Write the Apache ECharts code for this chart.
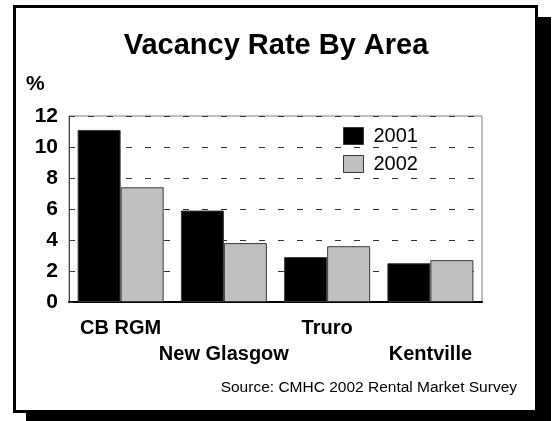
<!DOCTYPE html>
<html>
<head>
<meta charset="utf-8">
<script src="https://cdn.jsdelivr.net/npm/echarts@6/dist/echarts.min.js"></script>
<style>
  html, body { margin: 0; padding: 0; background: #fff; }
  #frame {
    position: absolute; left: 13px; top: 5px; width: 519px; height: 402px;
    border: 3px solid #000; background: #fff; box-shadow: 13px 12px 0 #000;
  }
  #chart { position: absolute; left: 0; top: 0; width: 556px; height: 421px; }
</style>
</head>
<body>
<div id="frame"></div>
<div id="chart"></div>
<script>
const areas = ['CB RGM', 'New Glasgow', 'Truro', 'Kentville'];
const rate2001 = [11.1, 5.9, 2.9, 2.5];
const rate2002 = [7.4, 3.8, 3.6, 2.7];
const years = ['2001', '2002'];
const yMin = 0;
const yMax = 12;
const yStep = 2;

const font = "'Liberation Sans', Arial, sans-serif";

function barSeries(name, values, color) {
  return {
    name,
    type: 'bar',
    data: values,
    barWidth: 43,
    barGap: 0,
    itemStyle: { color, borderColor: '#3a3a3a', borderWidth: 1 },
  };
}

const config = {
  animation: false,
  textStyle: { fontFamily: font },
  title: [
    {
      text: 'Vacancy Rate By Area',
      left: 276, top: 31, textAlign: 'center', padding: 0,
      textStyle: { fontFamily: font, fontSize: 29, fontWeight: 'bold', color: '#000' },
    },
    {
      text: '%',
      left: 26, top: 74, padding: 0,
      textStyle: { fontFamily: font, fontSize: 21, fontWeight: 'bold', color: '#000' },
    },
    {
      text: 'Source: CMHC 2002 Rental Market Survey',
      right: 39, top: 380, padding: 0,
      textStyle: { fontFamily: font, fontSize: 15.5, fontWeight: 'normal', color: '#000' },
    },
  ],
  legend: {
    data: years,
    orient: 'vertical',
    left: 343, top: 126, padding: 0,
    itemWidth: 20, itemHeight: 17, itemGap: 8,
    icon: 'rect',
    itemStyle: { borderColor: '#3a3a3a', borderWidth: 1 },
    textStyle: { fontFamily: font, fontSize: 20, lineHeight: 20, color: '#000', padding: [0, 0, 0, 5] },
  },
  grid: {
    left: 69, top: 116, width: 413, height: 186,
    show: true, borderColor: '#808080', borderWidth: 1,
  },
  xAxis: {
    type: 'category',
    data: areas,
    axisLine: { lineStyle: { color: '#000', width: 2 } },
    axisTick: { show: false },
    axisLabel: {
      interval: 0, margin: 13,
      fontFamily: font, fontSize: 20, fontWeight: 'bold', color: '#000', lineHeight: 26,
      formatter: (v, i) => (i % 2 ? '\n' + v : v),
    },
  },
  yAxis: {
    type: 'value',
    min: yMin, max: yMax, interval: yStep,
    axisLine: { show: true, lineStyle: { color: '#444', width: 1 } },
    axisTick: { show: true, inside: true, length: 4, lineStyle: { color: '#444' } },
    axisLabel: { margin: 11, fontFamily: font, fontSize: 21, fontWeight: 'bold', color: '#000' },
    splitLine: { show: true, lineStyle: { color: '#333', width: 1, type: [6, 13] } },
  },
  series: [
    barSeries(years[0], rate2001, '#000000'),
    barSeries(years[1], rate2002, '#c0c0c0'),
  ],
};

const chart = echarts.init(document.getElementById('chart'), null, { renderer: 'canvas' });
chart.setOption(config);
</script>
</body>
</html>
